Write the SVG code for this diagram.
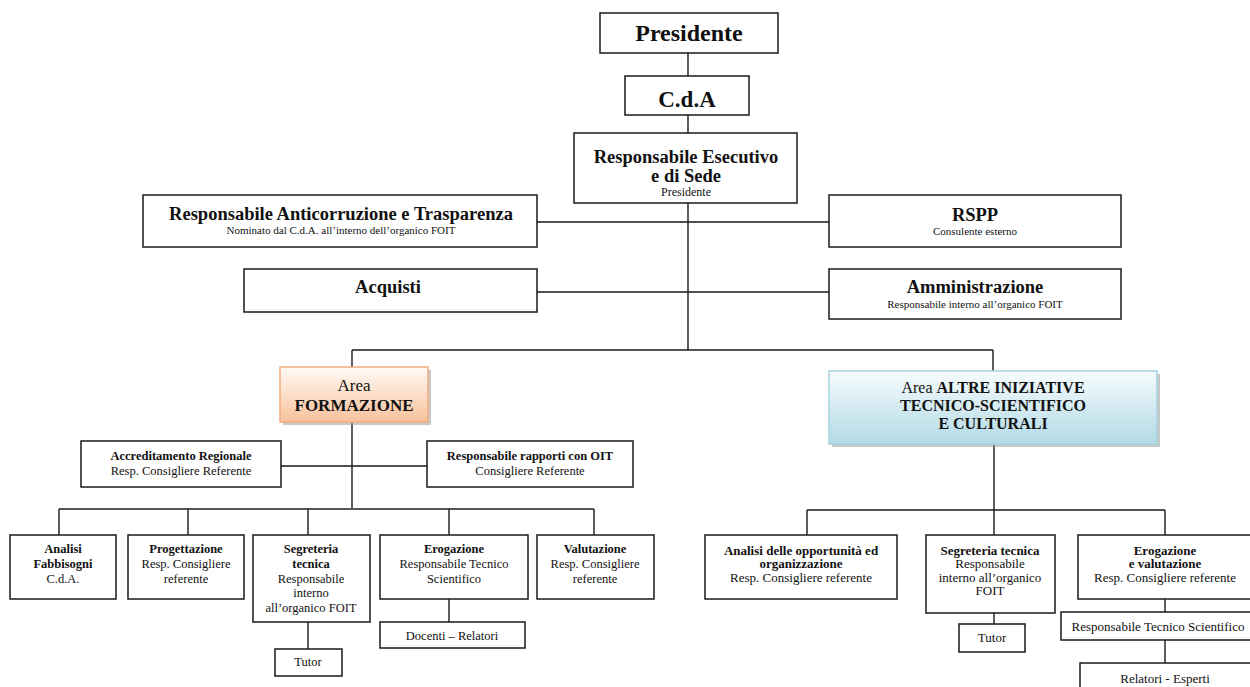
<svg xmlns="http://www.w3.org/2000/svg" width="1250" height="687" viewBox="0 0 1250 687" font-family="'Liberation Serif', 'DejaVu Serif', serif">
<defs>
<linearGradient id="gF" x1="0" y1="0" x2="0" y2="1"><stop offset="0" stop-color="#fffaf5"/><stop offset="1" stop-color="#f8c29b"/></linearGradient>
<linearGradient id="gA" x1="0" y1="0" x2="0" y2="1"><stop offset="0" stop-color="#f7fcfd"/><stop offset="1" stop-color="#b2dae6"/></linearGradient>
<style>
.box{fill:#fff;stroke:#1a1a1a;stroke-width:1.5}
.ln{stroke:#1a1a1a;stroke-width:1.4;fill:none}
.bus{stroke:#555;stroke-width:2;fill:none}
.sh{fill:#9a9a9a;opacity:.55}
text{font-family:'Liberation Serif','DejaVu Serif',serif;fill:#111;text-anchor:middle}
.b{font-weight:bold}
.t24{font-size:24px}.t23{font-size:23px}.t18{font-size:18.5px}.t12{font-size:12px}.t11{font-size:11px}
.m{font-size:12.5px}.r{font-size:13px}
</style>
</defs>
<g id="connectors">
<path class="ln" d="M688 53V76M688 115V133M688 203V350M537 222H829M537 292H829"/>
<path class="ln" d="M352 350H993M352 350V367M993 350V371"/>
<path class="ln" d="M352 422V509M281 466H427"/>
<path class="bus" d="M59 509H594"/>
<path class="ln" d="M59 509V535M188 509V535M308 509V535M449 509V535M594 509V535M308 622V649M449 599V622"/>
<path class="ln" d="M994 444V510M807 510H1165M807 510V535M994 510V535M1165 510V535M994 613V624M1165 599V612M1165 640V663"/>
</g>
<g id="presidente"><rect class="box" x="600" y="13" width="178" height="40"/><text class="b t24" x="689" y="41">Presidente</text></g>
<g id="cda"><rect class="box" x="625" y="76" width="124" height="39"/><text class="b t23" x="687" y="107">C.d.A</text></g>
<g id="resp-esecutivo"><rect class="box" x="574" y="133" width="223" height="70"/><text class="b t18" x="686" y="163">Responsabile Esecutivo</text><text class="b t18" x="686" y="182">e di Sede</text><text class="t12" x="686" y="196">Presidente</text></g>
<g id="anticorruzione"><rect class="box" x="143" y="195" width="394" height="52"/><text class="b t18" x="341" y="220">Responsabile Anticorruzione e Trasparenza</text><text class="t11" x="341" y="234">Nominato dal C.d.A. all’interno dell’organico FOIT</text></g>
<g id="acquisti"><rect class="box" x="244" y="269" width="293" height="43"/><text class="b t18" x="388" y="293">Acquisti</text></g>
<g id="rspp"><rect class="box" x="829" y="195" width="292" height="52"/><text class="b t18" x="975" y="221">RSPP</text><text class="t11" x="975" y="235">Consulente esterno</text></g>
<g id="amministrazione"><rect class="box" x="829" y="269" width="292" height="50"/><text class="b t18" x="975" y="293">Amministrazione</text><text class="t11" x="975" y="308">Responsabile  interno all’organico FOIT</text></g>
<g id="area-formazione"><rect class="sh" x="283" y="370" width="148" height="55"/><rect x="280" y="367" width="148" height="55" fill="url(#gF)" stroke="#f3ab7f" stroke-width="1.5"/><text x="354" y="391" style="font-size:17px">Area</text><text class="b" x="354" y="411" style="font-size:17px">FORMAZIONE</text></g>
<g id="area-altre"><rect class="sh" x="832" y="374" width="328" height="73"/><rect x="829" y="371" width="328" height="73" fill="url(#gA)" stroke="#a6d4e2" stroke-width="1.5"/><text x="993" y="393" style="font-size:16px">Area <tspan class="b">ALTRE INIZIATIVE</tspan></text><text class="b" x="993" y="411" style="font-size:16px">TECNICO-SCIENTIFICO</text><text class="b" x="993" y="429" style="font-size:16px">E CULTURALI</text></g>
<g id="accreditamento"><rect class="box" x="81" y="441" width="200" height="46"/><text class="b m" x="181" y="459.5">Accreditamento Regionale</text><text class="m" x="181" y="474.5">Resp. Consigliere Referente</text></g>
<g id="rapporti-oit"><rect class="box" x="427" y="441" width="206" height="46"/><text class="b m" x="530" y="459.5">Responsabile rapporti con OIT</text><text class="m" x="530" y="474.5">Consigliere Referente</text></g>
<g id="analisi-fabbisogni"><rect class="box" x="10" y="535" width="106" height="64"/><text class="b m" x="63" y="552.5">Analisi</text><text class="b m" x="63" y="567.5">Fabbisogni</text><text class="m" x="63" y="582.5">C.d.A.</text></g>
<g id="progettazione"><rect class="box" x="128" y="535" width="116" height="64"/><text class="b m" x="186" y="552.5">Progettazione</text><text class="m" x="186" y="567.5">Resp. Consigliere</text><text class="m" x="186" y="582.5">referente</text></g>
<g id="segreteria-f"><rect class="box" x="253" y="535" width="117" height="87"/><text class="b m" x="311" y="552.5">Segreteria</text><text class="b m" x="311" y="567.5">tecnica</text><text class="m" x="311" y="582.5">Responsabile</text><text class="m" x="311" y="596.5">interno</text><text class="m" x="311" y="611.5">all’organico FOIT</text></g>
<g id="tutor-f"><rect class="box" x="275" y="649" width="67" height="27"/><text class="m" x="308" y="666">Tutor</text></g>
<g id="erogazione-f"><rect class="box" x="380" y="535" width="148" height="64"/><text class="b m" x="454" y="552.5">Erogazione</text><text class="m" x="454" y="567.5">Responsabile Tecnico</text><text class="m" x="454" y="582.5">Scientifico</text></g>
<g id="docenti"><rect class="box" x="380" y="622" width="145" height="26"/><text class="m" x="452" y="639.5">Docenti – Relatori</text></g>
<g id="valutazione"><rect class="box" x="537" y="535" width="117" height="64"/><text class="b m" x="595" y="552.5">Valutazione</text><text class="m" x="595" y="567.5">Resp. Consigliere</text><text class="m" x="595" y="582.5">referente</text></g>
<g id="analisi-opportunita"><rect class="box" x="705" y="535" width="192" height="64"/><text class="b r" x="801" y="554.5">Analisi delle opportunità ed</text><text class="b r" x="801" y="568">organizzazione</text><text class="r" x="801" y="581.5">Resp. Consigliere referente</text></g>
<g id="segreteria-a"><rect class="box" x="926" y="535" width="129" height="78"/><text class="b r" x="990" y="554.5">Segreteria tecnica</text><text class="r" x="990" y="568">Responsabile</text><text class="r" x="990" y="581.5">interno all’organico</text><text class="r" x="990" y="595">FOIT</text></g>
<g id="tutor-a"><rect class="box" x="959" y="624" width="66" height="28"/><text class="r" x="992" y="642">Tutor</text></g>
<g id="erogazione-a"><rect class="box" x="1078" y="535" width="176" height="64"/><text class="b r" x="1165" y="554.5">Erogazione</text><text class="b r" x="1165" y="567.5">e valutazione</text><text class="r" x="1165" y="581.5">Resp. Consigliere referente</text></g>
<g id="resp-tecnico"><rect class="box" x="1061" y="612" width="194" height="28"/><text class="r" x="1158" y="631">Responsabile Tecnico Scientifico</text></g>
<g id="relatori"><rect class="box" x="1080" y="663" width="174" height="40"/><text class="r" x="1165" y="683">Relatori - Esperti</text></g>
</svg>
